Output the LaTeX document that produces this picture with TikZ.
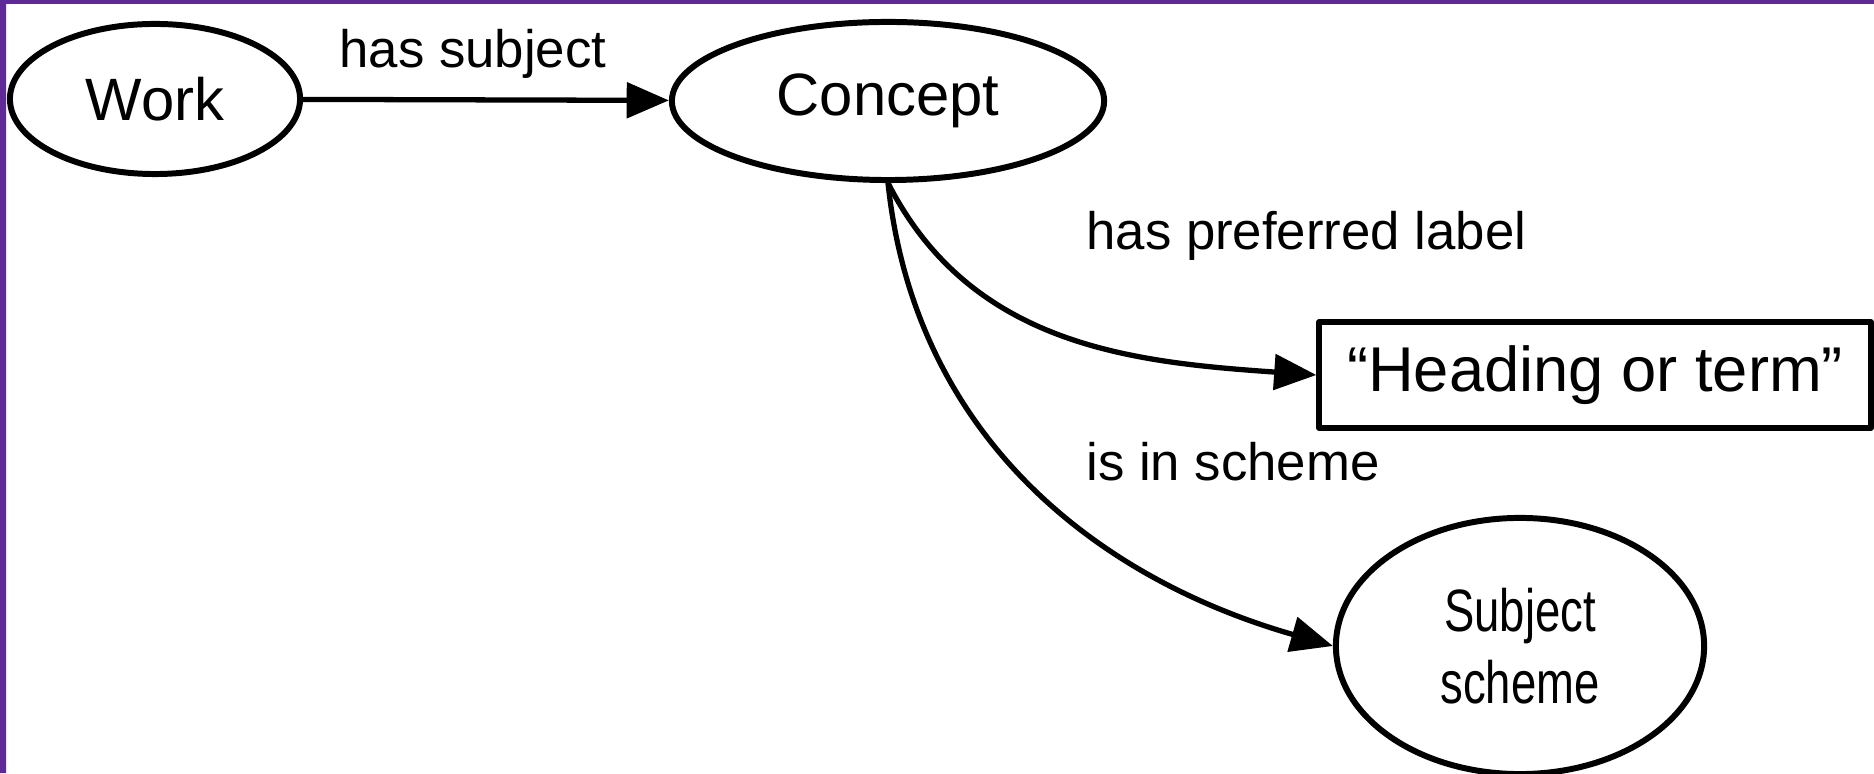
\documentclass[tikz,border=0pt]{standalone}
\usepackage{fontspec}
\setmainfont{Liberation Sans}
\newfontfamily\condfont[FakeStretch=0.76]{Liberation Sans}
\usetikzlibrary{arrows.meta,shapes,positioning}
\definecolor{framepurple}{RGB}{94,42,150}

\begin{document}
\begin{tikzpicture}[x=0.01cm, y=0.01cm, line join=round,
  thing/.style={ellipse, draw, line width=1.7pt, inner sep=0pt, font=\fontsize{17}{20}\selectfont},
  literal/.style={rectangle, draw, line width=1.7pt, inner sep=0pt, font=\fontsize{18}{22}\selectfont},
  rel/.style={font=\fontsize{15}{18}\selectfont},
  link/.style={line width=1.5pt, -{Triangle[length=12pt,width=10pt]}}]
\useasboundingbox (0,0) rectangle (1874,773);
\fill[framepurple] (0,0) rectangle (6,773) (0,769) rectangle (1874,773);   % frame edges
\node[thing, minimum width=2.9cm, minimum height=1.5cm]   (work)    at (155,674)  {Work};
\node[thing, minimum width=4.32cm, minimum height=1.58cm] (concept) at (888,672)  {Concept};
\node[literal, minimum width=5.51cm, minimum height=1.06cm] (heading) at (1595,398) {“Heading or term”};
\node[thing, minimum width=3.68cm, minimum height=2.56cm, align=center,
      font=\condfont\fontsize{17}{20.5}\selectfont] (scheme) at (1520,127) {Subject\\scheme};
\node[rel]             (hassubject) at (473,719)  {has subject};
\node[rel, anchor=west] (preflabel) at (1074,537) {has preferred label};
\node[rel, anchor=west] (inscheme)  at (1074,311) {is in scheme};
\draw[link] (work) -- (concept);
\draw[link] (concept.south) to[out=-63, in=176] (heading.west);
\draw[link] (concept.south) to[out=-84, in=164] (scheme.west);
\end{tikzpicture}
\end{document}
